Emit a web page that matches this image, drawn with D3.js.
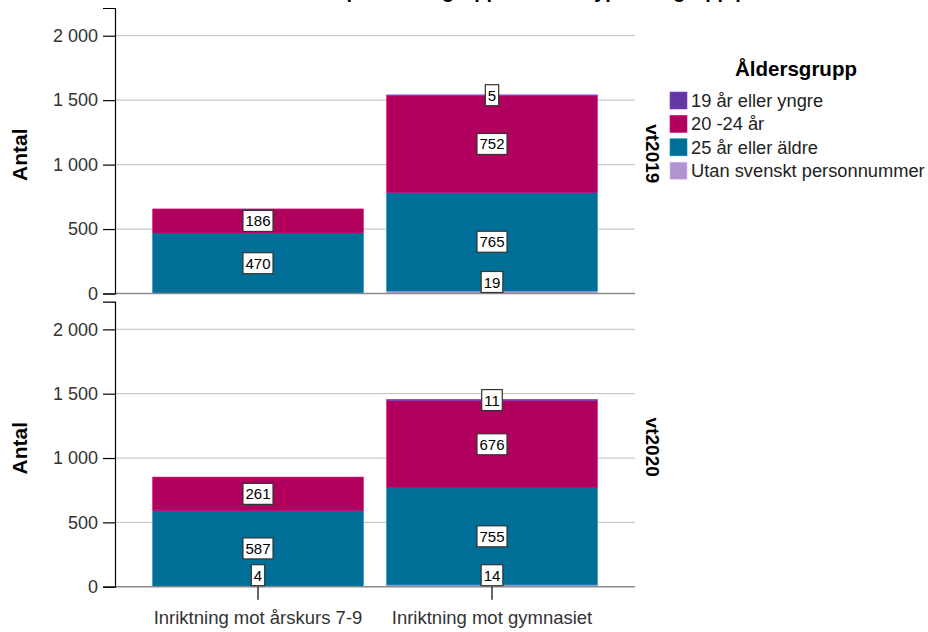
<!DOCTYPE html>
<html>
<head>
<meta charset="utf-8">
<script src="https://cdn.jsdelivr.net/npm/d3@7"></script>
<style>
  html, body { margin: 0; padding: 0; background: #fff; }
  svg { display: block; font-family: "Liberation Sans", Arial, sans-serif; }
</style>
</head>
<body>
<svg id="chart" width="928" height="632"></svg>
<script>
// ---------- data ----------
const categories = ["Inriktning mot årskurs 7-9", "Inriktning mot gymnasiet"];
const panels = ["vt2019", "vt2020"];
// stacking order bottom -> top
const seriesNames = ["Utan svenskt personnummer", "25 år eller äldre", "20 -24 år", "19 år eller yngre"];
const legendOrder = ["19 år eller yngre", "20 -24 år", "25 år eller äldre", "Utan svenskt personnummer"];
const seriesColors = ["#b093cf", "#006f98", "#b1005d", "#6535a3"];
// values[panel][category]
const utanValues = [[0, 19], [4, 14]];
const age25Values = [[470, 765], [587, 755]];
const age20Values = [[186, 752], [261, 676]];
const age19Values = [[0, 5], [0, 11]];
const yTickValues = [0, 500, 1000, 1500, 2000];
const yTickLabels = ["0", "500", "1 000", "1 500", "2 000"];
const yLabel = "Antal";
const legendTitle = "Åldersgrupp";
const titleText = "Antal per åldersgrupp och kurstyp i elevgrupp per termin och inriktning";

// ---------- layout ----------
const svg = d3.select("#chart");
const FONT = '"Liberation Sans", Arial, sans-serif';
const plotLeft = 115, plotRight = 635;
const panelRanges = [[293.5, 8], [586.7, 301.7]];
const yMax = 2215;

const x = d3.scaleBand().domain(categories).range([141, 609]).paddingInner(0.1).paddingOuter(0.05);
const color = d3.scaleOrdinal().domain(seriesNames).range(seriesColors);
const seriesValues = [utanValues, age25Values, age20Values, age19Values];

// title (clipped at the top as in the reference)
const title = svg.append("text")
  .attr("y", -2.5)
  .attr("font-family", FONT).attr("font-weight", "bold").attr("font-size", 20)
  .attr("fill", "#000")
  .text(titleText);
{
  const idx = titleText.indexOf("grupp");
  const node = title.node();
  const off = node.getSubStringLength(0, idx);
  title.attr("x", 442 - off);
}

panels.forEach((panel, pi) => {
  const [y0, y1] = panelRanges[pi];
  const y = d3.scaleLinear().domain([0, yMax]).range([y0, y1]);
  const g = svg.append("g");

  // gridlines
  g.selectAll("line.grid").data(yTickValues.filter(v => v > 0)).join("line")
    .attr("x1", plotLeft).attr("x2", plotRight)
    .attr("y1", d => y(d)).attr("y2", d => y(d))
    .attr("stroke", "#c9c9c9").attr("stroke-width", 1.2);

  // stacked data
  const rows = categories.map((c, ci) => {
    const r = { cat: c };
    seriesNames.forEach((s, si) => r[s] = seriesValues[si][pi][ci]);
    return r;
  });
  const stack = d3.stack().keys(seriesNames)(rows);

  stack.forEach(layer => {
    g.selectAll(null).data(layer).join("rect")
      .attr("x", d => x(d.data.cat))
      .attr("width", x.bandwidth())
      .attr("y", d => y(d[1]))
      .attr("height", d => Math.max(0, y(d[0]) - y(d[1])))
      .attr("fill", color(layer.key))
      .attr("stroke", d3.color(color(layer.key)).brighter(0.6))
      .attr("stroke-width", 0.6);
  });

  // zero baseline
  g.append("line")
    .attr("x1", plotLeft).attr("x2", plotRight)
    .attr("y1", y(0)).attr("y2", y(0))
    .attr("stroke", "#8a8a8a").attr("stroke-width", 1.5);

  // y axis
  const yAxis = d3.axisLeft(y).tickValues(yTickValues)
    .tickFormat((d, i) => yTickLabels[i]).tickSize(12).tickPadding(5);
  const ax = g.append("g").attr("transform", `translate(${plotLeft},0)`).call(yAxis);
  ax.select(".domain").attr("stroke", "#000").attr("stroke-width", 1.2);
  ax.selectAll(".tick line").attr("stroke", "#000").attr("stroke-width", 1.2);
  ax.selectAll(".tick text").attr("font-family", FONT).attr("font-size", 18).attr("fill", "#333");

  // y label
  g.append("text")
    .attr("transform", `translate(27,${(y(0) + y(yMax)) / 2 + 4}) rotate(-90)`)
    .attr("text-anchor", "middle")
    .attr("font-family", FONT).attr("font-weight", "bold").attr("font-size", 21)
    .attr("fill", "#000").text(yLabel);

  // panel label (right, rotated)
  g.append("text")
    .attr("transform", `translate(646,${(y(0) + y(yMax)) / 2 + 3}) rotate(90)`)
    .attr("text-anchor", "middle")
    .attr("font-family", FONT).attr("font-weight", "bold").attr("font-size", 19)
    .attr("fill", "#000").text(panel);

  // data labels
  stack.forEach(layer => {
    layer.forEach(d => {
      const v = d[1] - d[0];
      if (v <= 0) return;
      const cx = x(d.data.cat) + x.bandwidth() / 2;
      let cy = (y(d[0]) + y(d[1])) / 2;
      const h = 21;
      if (cy + h / 2 > y(0) - 1) cy = y(0) - 1 - h / 2;
      const lg = g.append("g");
      const t = lg.append("text")
        .attr("x", cx).attr("y", cy + 5.5)
        .attr("text-anchor", "middle")
        .attr("font-family", FONT).attr("font-size", 15)
        .attr("fill", "#000").text(v);
      const w = t.node().getComputedTextLength() + 5;
      lg.insert("rect", "text")
        .attr("x", cx - w / 2).attr("y", cy - h / 2)
        .attr("width", w).attr("height", h)
        .attr("fill", "#fff").attr("stroke", "#333").attr("stroke-width", 1.2);
    });
  });

  // x axis (only on bottom panel)
  if (pi === panels.length - 1) {
    const xAxis = d3.axisBottom(x).tickSize(13).tickPadding(11);
    const xa = g.append("g").attr("transform", `translate(0,${y(0)})`).call(xAxis);
    xa.select(".domain").remove();
    xa.selectAll(".tick line").attr("stroke", "#000").attr("stroke-width", 1.2);
    xa.selectAll(".tick text").attr("font-family", FONT).attr("font-size", 18.5).attr("fill", "#333");
  }
});

// legend
const legend = svg.append("g");
legend.append("text")
  .attr("x", 796).attr("y", 76)
  .attr("text-anchor", "middle")
  .attr("font-family", FONT).attr("font-weight", "bold").attr("font-size", 20.5)
  .attr("fill", "#000").text(legendTitle);
const items = legend.selectAll("g.item").data(legendOrder).join("g")
  .attr("transform", (d, i) => `translate(670,${92 + i * 23.4})`);
items.append("rect")
  .attr("width", 17).attr("height", 17)
  .attr("fill", d => color(d))
  .attr("stroke", d => d3.color(color(d)).brighter(0.6)).attr("stroke-width", 0.6);
items.append("text")
  .attr("x", 21).attr("y", 15)
  .attr("font-family", FONT).attr("font-size", 18.3)
  .attr("fill", "#222").text(d => d);
</script>
</body>
</html>
